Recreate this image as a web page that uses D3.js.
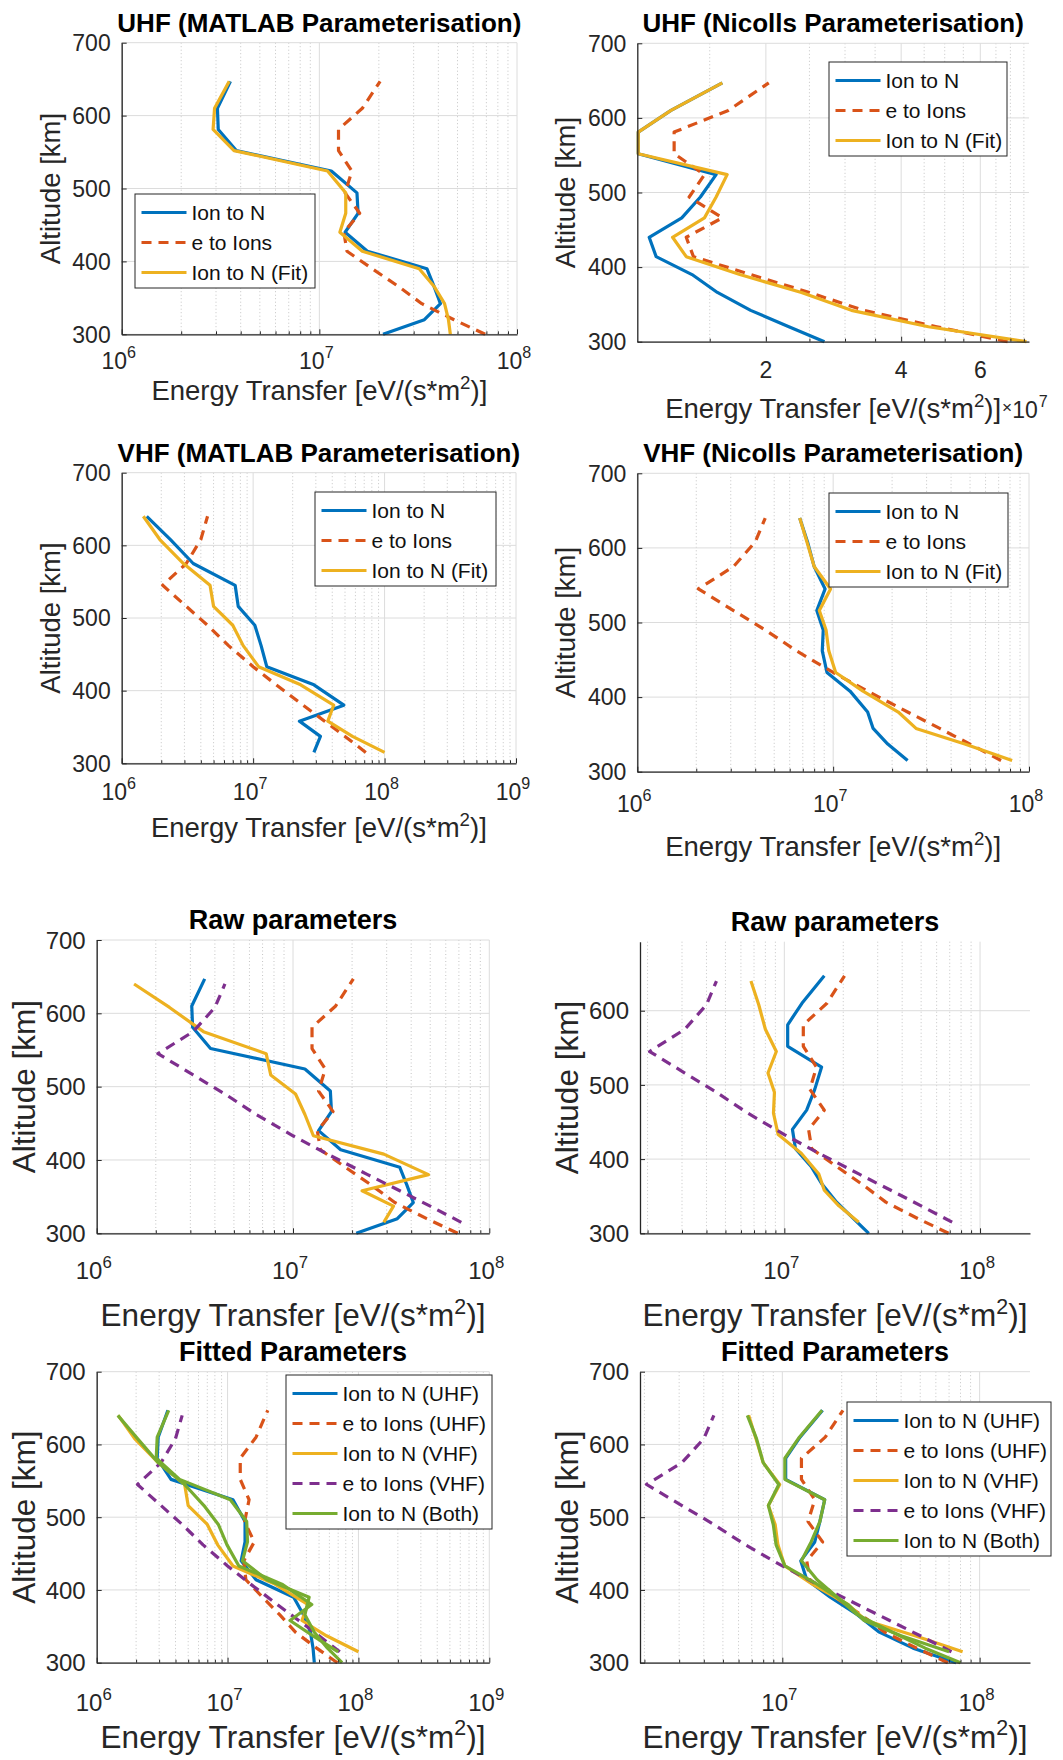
<!DOCTYPE html>
<html><head><meta charset="utf-8">
<script src="https://cdn.jsdelivr.net/npm/d3@7"></script>
<style>
body{margin:0;background:#fff}
svg{display:block}
text{font-family:"Liberation Sans",Arial,Helvetica,sans-serif}
</style>
</head><body>
<svg id="chart" width="1063" height="1760"></svg>
<script>
// ---------------- DATA ----------------
const uhfAlt = [300,320,342,366,390,414,440,466,494,524,552,581,610,647];
const vhfAlt = [315,337,358,380,408,433,462,490,516,545,575,608,640];

// UHF, MATLAB parameterisation
const uhfMatlabIonToN = [2.1e7,3.4e7,4.1e7,3.8e7,3.5e7,1.75e7,1.35e7,1.57e7,1.55e7,1.15e7,3.8e6,3.08e6,3.05e6,3.55e6];
const uhfMatlabFit    = [4.6e7,4.5e7,4.3e7,3.8e7,3.2e7,1.65e7,1.27e7,1.36e7,1.36e7,1.1e7,3.7e6,2.9e6,2.95e6,3.5e6];
// UHF electron to ions (same for both parameterisations)
const uhfEToIons      = [6.9e7,4.8e7,3.3e7,2.5e7,1.85e7,1.38e7,1.33e7,1.6e7,1.35e7,1.46e7,1.25e7,1.25e7,1.65e7,2.03e7];
// UHF, Nicolls parameterisation
const uhfNicollsIonToN = [2.7e7,2.25e7,1.85e7,1.56e7,1.37e7,1.14e7,1.1e7,1.3e7,1.43e7,1.55e7,1.04e7,1.04e7,1.23e7,1.6e7];
const uhfNicollsFit    = [7.6e7,4.6e7,3.1e7,2.4e7,1.75e7,1.33e7,1.24e7,1.46e7,1.55e7,1.64e7,1.04e7,1.04e7,1.23e7,1.6e7];

// VHF, MATLAB parameterisation
const vhfMatlabIonToN = [2.9e7,3.25e7,2.25e7,4.9e7,2.9e7,1.27e7,1.15e7,1.03e7,7.7e6,7.3e6,3.5e6,2.35e6,1.55e6];
const vhfMatlabFit    = [1.0e8,5.7e7,3.7e7,4.1e7,2.3e7,1.1e7,8.4e6,7.0e6,5.0e6,4.7e6,2.95e6,1.95e6,1.46e6];
// VHF electron to ions (same for both parameterisations)
const vhfEToIons      = [7.2e7,5.0e7,3.5e7,2.4e7,1.5e7,1.0e7,6.5e6,4.5e6,3.1e6,2.05e6,3.1e6,4.0e6,4.5e6];
// VHF, Nicolls parameterisation
const vhfNicollsIonToN = [2.4e7,1.9e7,1.6e7,1.5e7,1.22e7,9.3e6,8.8e6,8.9e6,8.25e6,9.1e6,8.0e6,7.4e6,6.75e6];
const vhfNicollsFit    = [8.2e7,4.7e7,2.65e7,2.15e7,1.42e7,1.03e7,9.5e6,9.2e6,8.5e6,9.7e6,8.0e6,7.35e6,6.75e6];

// Fits using both radars
const bothMatlabUhf  = [7.5e7,5.8e7,4.6e7,3.9e7,4.2e7,2.0e7,1.3e7,1.42e7,1.4e7,1.05e7,4.3e6,2.85e6,2.9e6,3.55e6];
const bothMatlabVhf  = [7.0e7,4.5e7,3.0e7,4.4e7,2.6e7,1.22e7,9.9e6,8.5e6,6.6e6,4.7e6,2.95e6,2.05e6,1.45e6];
const bothNicollsUhf = [8.0e7,5.3e7,3.6e7,2.4e7,1.9e7,1.5e7,1.25e7,1.4e7,1.55e7,1.64e7,1.03e7,1.03e7,1.22e7,1.59e7];
const bothNicollsVhf = [7.0e7,4.0e7,2.6e7,2.15e7,1.5e7,1.03e7,9.3e6,9.0e6,8.5e6,9.6e6,8.0e6,7.4e6,6.65e6];

const altTicks = [300,400,500,600,700];
const nicollsUhfTicks = [2e7,4e7,6e7];
const nicollsUhfTickLabels = ["2","4","6"];
const nicollsUhfMinor = [1.5e7,2.5e7,3e7,3.5e7,4.5e7,5e7,5.5e7,6.5e7,7e7,7.5e7];

// ---------------- STYLE ----------------
const COL = {blue:"#0072BD", orange:"#D95319", yellow:"#EDB120", purple:"#7E2F8E", green:"#77AC30"};
const AXC = "#262626";
const LW = 3.2;
const svg = d3.select("#chart");
svg.append("rect").attr("width",1063).attr("height",1760).attr("fill","#fff");

const S = (alt, val, color, dash, name) => ({alt, val, color, dash, name});

const rowA = {title:26, tick:23, label:27.5, leg:21};
const rowB = {title:27, tick:24, label:31.5, leg:21};

const panels = [
 {l:121.7,r:517,t:42.7,b:334.3, xdom:[1e6,1e8], ydom:[300,700], fs:rowA, tickOff:35, labOff:66,
  title:"UHF (MATLAB Parameterisation)",
  series:[S(uhfAlt,uhfMatlabIonToN,COL.blue,false,"Ion to N"),
          S(uhfAlt,uhfEToIons,COL.orange,true,"e to Ions"),
          S(uhfAlt,uhfMatlabFit,COL.yellow,false,"Ion to N (Fit)")],
  legend:{x:135,y:194,w:180}},
 {l:637.3,r:1029,t:43.3,b:341.7, xdom:[1.035e7,7.7e7], ydom:[300,700], fs:rowA, tickOff:36, labOff:76,
  xMajor:nicollsUhfTicks, xMajorLabels:nicollsUhfTickLabels, xMinor:nicollsUhfMinor, expo:"7",
  title:"UHF (Nicolls Parameterisation)",
  series:[S(uhfAlt,uhfNicollsIonToN,COL.blue,false,"Ion to N"),
          S(uhfAlt,uhfEToIons,COL.orange,true,"e to Ions"),
          S(uhfAlt,uhfNicollsFit,COL.yellow,false,"Ion to N (Fit)")],
  legend:{x:829,y:62,w:178}},
 {l:121.7,r:516,t:472.7,b:763.3, xdom:[1e6,1e9], ydom:[300,700], fs:rowA, tickOff:37, labOff:74,
  title:"VHF (MATLAB Parameterisation)",
  series:[S(vhfAlt,vhfMatlabIonToN,COL.blue,false,"Ion to N"),
          S(vhfAlt,vhfEToIons,COL.orange,true,"e to Ions"),
          S(vhfAlt,vhfMatlabFit,COL.yellow,false,"Ion to N (Fit)")],
  legend:{x:315,y:492,w:181}},
 {l:637.3,r:1029,t:473.3,b:771.7, xdom:[1e6,1e8], ydom:[300,700], fs:rowA, tickOff:40, labOff:84,
  title:"VHF (Nicolls Parameterisation)",
  series:[S(vhfAlt,vhfNicollsIonToN,COL.blue,false,"Ion to N"),
          S(vhfAlt,vhfEToIons,COL.orange,true,"e to Ions"),
          S(vhfAlt,vhfNicollsFit,COL.yellow,false,"Ion to N (Fit)")],
  legend:{x:829,y:493,w:179}},
 {l:96.7,r:489.3,t:940,b:1233.3, xdom:[1e6,1e8], ydom:[300,700], fs:rowB, tickOff:46, labOff:93,
  title:"Raw parameters",
  series:[S(uhfAlt,uhfMatlabIonToN,COL.blue,false),
          S(uhfAlt,uhfEToIons,COL.orange,true),
          S(vhfAlt,vhfMatlabIonToN,COL.yellow,false),
          S(vhfAlt,vhfEToIons,COL.purple,true)]},
 {l:640,r:1030,t:941.7,b:1233.3, xdom:[1.83e6,1.8e8], ydom:[300,693], fs:rowB, tickOff:46, labOff:93,
  title:"Raw parameters",
  series:[S(uhfAlt,uhfNicollsIonToN,COL.blue,false),
          S(uhfAlt,uhfEToIons,COL.orange,true),
          S(vhfAlt,vhfNicollsIonToN,COL.yellow,false),
          S(vhfAlt,vhfEToIons,COL.purple,true)]},
 {l:96.7,r:489.3,t:1371.7,b:1662.7, xdom:[1e6,1e9], ydom:[300,700], fs:rowB, tickOff:48, labOff:85,
  title:"Fitted Parameters",
  series:[S(uhfAlt,uhfMatlabFit,COL.blue,false,"Ion to N (UHF)"),
          S(uhfAlt,uhfEToIons,COL.orange,true,"e to Ions (UHF)"),
          S(vhfAlt,vhfMatlabFit,COL.yellow,false,"Ion to N (VHF)"),
          S(vhfAlt,vhfEToIons,COL.purple,true,"e to Ions (VHF)"),
          S(uhfAlt,bothMatlabUhf,COL.green,false,"Ion to N (Both)"),
          S(vhfAlt,bothMatlabVhf,COL.green,false)],
  legend:{x:286,y:1375,w:206}},
 {l:640,r:1030,t:1371.7,b:1662.7, xdom:[1.9e6,1.8e8], ydom:[300,700], fs:rowB, tickOff:48, labOff:85,
  title:"Fitted Parameters",
  series:[S(uhfAlt,uhfNicollsFit,COL.blue,false,"Ion to N (UHF)"),
          S(uhfAlt,uhfEToIons,COL.orange,true,"e to Ions (UHF)"),
          S(vhfAlt,vhfNicollsFit,COL.yellow,false,"Ion to N (VHF)"),
          S(vhfAlt,vhfEToIons,COL.purple,true,"e to Ions (VHF)"),
          S(uhfAlt,bothNicollsUhf,COL.green,false,"Ion to N (Both)"),
          S(vhfAlt,bothNicollsVhf,COL.green,false)],
  legend:{x:847,y:1402,w:204}}
];

panels.forEach(drawPanel);

function drawPanel(p){
  const g = svg.append("g");
  const x = d3.scaleLog().domain(p.xdom).range([p.l,p.r]);
  const y = d3.scaleLinear().domain(p.ydom).range([p.b,p.t]);
  let majors=[], minors=[];
  if (p.xMajor){ majors=p.xMajor; minors=p.xMinor; }
  else {
    const [a,b]=p.xdom;
    for(let e=Math.floor(Math.log10(a)); e<=Math.ceil(Math.log10(b)); e++){
      for(let k=1;k<10;k++){
        const v=k*Math.pow(10,e);
        if(v<a*0.9999||v>b*1.0001) continue;
        (k===1?majors:minors).push(v);
      }
    }
  }
  const yt = altTicks.filter(v=>v>=p.ydom[0]&&v<=p.ydom[1]);

  // grids
  g.append("g").selectAll("line").data(minors).join("line")
    .attr("x1",d=>x(d)).attr("x2",d=>x(d)).attr("y1",p.t).attr("y2",p.b)
    .attr("stroke","#c4c4c4").attr("stroke-width",1).attr("stroke-dasharray","1,2.5");
  g.append("g").selectAll("line").data(majors).join("line")
    .attr("x1",d=>x(d)).attr("x2",d=>x(d)).attr("y1",p.t).attr("y2",p.b)
    .attr("stroke","#dcdcdc").attr("stroke-width",1);
  g.append("g").selectAll("line").data(yt).join("line")
    .attr("x1",p.l).attr("x2",p.r).attr("y1",d=>y(d)).attr("y2",d=>y(d))
    .attr("stroke","#dcdcdc").attr("stroke-width",1);

  // series
  const line = d3.line().x(d=>x(d[1])).y(d=>y(d[0]));
  p.series.forEach(s=>{
    g.append("path").datum(d3.zip(s.alt,s.val)).attr("d",line)
      .attr("fill","none").attr("stroke",s.color).attr("stroke-width",LW)
      .attr("stroke-linejoin","round")
      .attr("stroke-dasharray",s.dash?"10,7":null);
  });

  // axes
  const xa = g.append("g").attr("transform",`translate(0,${p.b})`)
    .call(d3.axisBottom(x).tickValues(majors).tickSize(-5).tickSizeOuter(0).tickFormat(""));
  const xm = g.append("g").attr("transform",`translate(0,${p.b})`)
    .call(d3.axisBottom(x).tickValues(minors).tickSize(-3).tickSizeOuter(0).tickFormat(""));
  xm.select(".domain").remove();
  const ya = g.append("g").attr("transform",`translate(${p.l},0)`)
    .call(d3.axisLeft(y).tickValues(yt).tickSize(-5).tickSizeOuter(0).tickFormat(""));
  [xa,xm,ya].forEach(a=>{
    a.selectAll("path").attr("stroke",AXC).attr("stroke-width",1.3);
    a.selectAll("line").attr("stroke",AXC).attr("stroke-width",1);
  });

  // y tick labels
  g.append("g").selectAll("text").data(yt).join("text")
    .attr("x",p.l-11).attr("y",d=>y(d)+p.fs.tick*0.36)
    .attr("text-anchor","end").attr("font-size",p.fs.tick).attr("fill",AXC)
    .text(d=>d);

  // x tick labels
  majors.forEach((v,i)=>{
    const t = g.append("text").attr("y",p.b+p.tickOff).attr("font-size",p.fs.tick)
      .attr("fill",AXC).attr("text-anchor","middle");
    if (p.xMajorLabels){
      t.attr("x",x(v)).text(p.xMajorLabels[i]);
    } else {
      t.attr("x",x(v)-3);
      t.append("tspan").text("10");
      t.append("tspan").attr("dy",-11).attr("font-size",p.fs.tick*0.7).text(Math.round(Math.log10(v)));
    }
  });

  // x label
  const cx=(p.l+p.r)/2, cy=(p.t+p.b)/2;
  const xl = g.append("text").attr("x",cx).attr("y",p.b+p.labOff).attr("text-anchor","middle")
    .attr("font-size",p.fs.label).attr("fill",AXC);
  xl.append("tspan").text("Energy Transfer [eV/(s*m");
  xl.append("tspan").attr("dy",-p.fs.label*0.4).attr("font-size",p.fs.label*0.68).text("2");
  xl.append("tspan").attr("dy",p.fs.label*0.4).text(")]");

  // exponent label (x10^n), placed right after the axis label's end
  if (p.expo){
    const labEnd = cx + xl.node().getComputedTextLength()/2;
    const t = g.append("text").attr("x",labEnd+1).attr("y",p.b+p.labOff).attr("font-size",p.fs.tick).attr("fill",AXC);
    t.append("tspan").attr("font-size",p.fs.tick*0.75).attr("dy",-5).text("\u00d7");
    t.append("tspan").attr("dy",5).text("10");
    t.append("tspan").attr("dy",-11).attr("dx",1).attr("font-size",p.fs.tick*0.7).text(p.expo);
  }

  // y label
  g.append("text").attr("transform",`translate(${p.l-62},${cy}) rotate(-90)`)
    .attr("text-anchor","middle").attr("font-size",p.fs.label).attr("fill",AXC)
    .text("Altitude [km]");

  // title
  g.append("text").attr("x",cx).attr("y",p.t-11).attr("text-anchor","middle")
    .attr("font-size",p.fs.title).attr("font-weight","bold").attr("fill","#000")
    .text(p.title);

  // legend
  if (p.legend){
    const items = p.series.filter(s=>s.name);
    const L=p.legend, h=items.length*30+4;
    g.append("rect").attr("x",L.x).attr("y",L.y).attr("width",L.w).attr("height",h)
      .attr("fill","#fff").attr("stroke",AXC).attr("stroke-width",1);
    items.forEach((s,i)=>{
      const yy=L.y+18.5+30*i;
      g.append("line").attr("x1",L.x+6.5).attr("x2",L.x+51.5).attr("y1",yy).attr("y2",yy)
        .attr("stroke",s.color).attr("stroke-width",LW).attr("stroke-dasharray",s.dash?"10,7":null);
      g.append("text").attr("x",L.x+56.5).attr("y",yy+7.5).attr("font-size",p.fs.leg)
        .attr("fill","#111").text(s.name);
    });
  }
}
</script>
</body></html>
